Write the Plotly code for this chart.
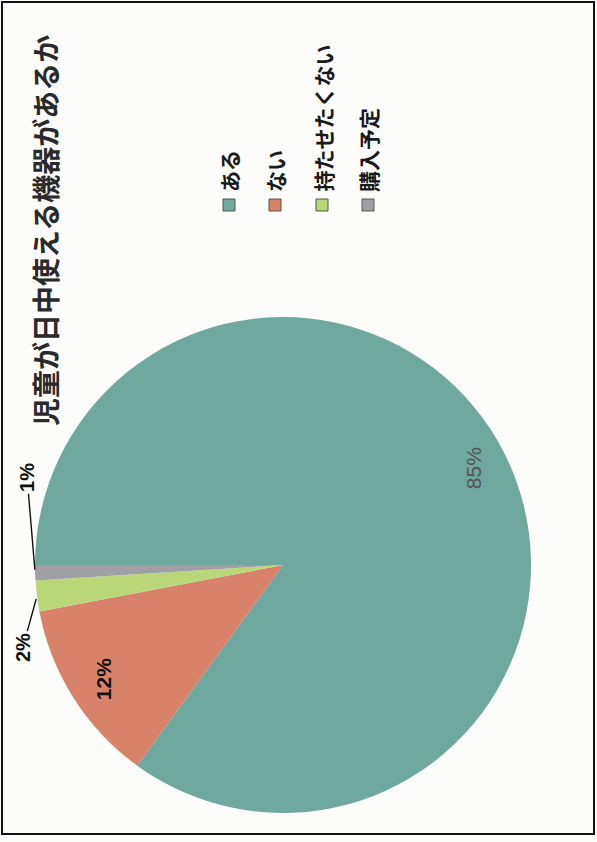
import math
import plotly.graph_objects as go

# ---- data ----
title_text = "児童が日中使える機器があるか"
categories = ["ある", "ない", "持たせたくない", "購入予定"]
values = [85, 12, 2, 1]
colors = ["#6ea89e", "#d78269", "#b9d778", "#a09fa3"]

W, H = 597, 842
CX, CY, R = 283, 565, 248  # pie centre / radius in pixels


def px(x):
    return x / W


def py(y):
    return 1 - y / H


fig = go.Figure()
fig.add_trace(go.Pie(
    labels=categories,
    values=values,
    sort=False,
    direction="clockwise",
    rotation=-90,
    marker=dict(colors=colors, line=dict(width=0)),
    textinfo="none",
    hoverinfo="label+percent",
    showlegend=False,
    domain=dict(x=[px(CX - R), px(CX + R)], y=[py(CY + R), py(CY - R)]),
))

total = sum(values)
cum = 0
mids = []
for v in values:
    mid = -90 + (cum + v / 2) / total * 360
    mids.append(math.radians(mid))
    cum += v


def polar(a, r):
    return CX + r * math.sin(a), CY - r * math.cos(a)


annotations = []
# title
annotations.append(dict(
    x=px(45), y=py(231), xref="paper", yref="paper",
    text=title_text, textangle=-90, showarrow=False,
    xanchor="center", yanchor="middle",
    font=dict(family="Noto Sans CJK JP", size=28, color="#2a2a2a", weight="bold"),
))

pct = [f"{round(v / total * 100)}%" for v in values]
# inside labels
for i, (col, wgt) in enumerate([("#555555", "normal"), ("#111111", "bold")]):
    x, y = polar(mids[i], 0.86 * R)
    annotations.append(dict(
        x=px(x), y=py(y), xref="paper", yref="paper", text=pct[i],
        textangle=-90, showarrow=False, xanchor="center", yanchor="middle",
        font=dict(family="Liberation Sans", size=21, color=col, weight=wgt),
    ))

# outside labels with leader lines
offsets = {2: (-14, 51), 3: (-8, -95)}
for i, (dx, dy) in offsets.items():
    x, y = polar(mids[i], R)
    annotations.append(dict(
        x=px(x), y=py(y), xref="paper", yref="paper", text=pct[i],
        textangle=-90, showarrow=True, arrowhead=0, arrowwidth=1.4,
        arrowcolor="#111111", ax=dx, ay=dy, standoff=3,
        font=dict(family="Liberation Sans", size=20, color="#111111", weight="bold"),
    ))

# legend (rotated)
leg_x = [229, 275, 322, 368]
shapes = []
for i, cat in enumerate(categories):
    lx = leg_x[i]
    shapes.append(dict(
        type="rect", xref="paper", yref="paper",
        x0=px(lx - 6), x1=px(lx + 6), y0=py(211), y1=py(199),
        fillcolor=colors[i], line=dict(color="#555555", width=1),
    ))
    annotations.append(dict(
        x=px(lx), y=py(194), xref="paper", yref="paper", text=cat,
        textangle=-90, showarrow=False, xanchor="center", yanchor="bottom",
        font=dict(family="Noto Sans CJK JP", size=21, color="#1a1a1a", weight="bold"),
    ))

# frame
shapes.append(dict(
    type="rect", xref="paper", yref="paper",
    x0=px(2), x1=px(594), y0=py(834), y1=py(2),
    line=dict(color="#111111", width=2), fillcolor="rgba(0,0,0,0)",
))

fig.update_layout(
    width=W, height=H,
    margin=dict(l=0, r=0, t=0, b=0),
    paper_bgcolor="#fcfcfa",
    plot_bgcolor="#fcfcfa",
    annotations=annotations,
    shapes=shapes,
)

fig.write_html("out.html")
